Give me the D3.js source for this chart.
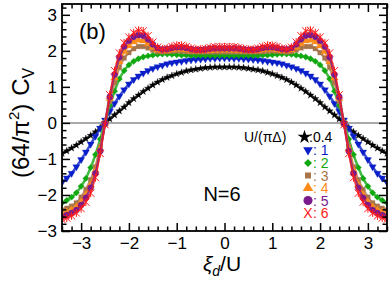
<!DOCTYPE html>
<html>
<head>
  <meta charset="utf-8">
  <title></title>
  <style>
    body { margin: 0; background: #fff; }
    text { font-family: 'Liberation Sans', Arial, sans-serif; }
  </style>
</head>
<body>
<div id="chart"></div>
<script src="https://cdn.jsdelivr.net/npm/d3@7"></script>
<script>
// x grid of the curves, xi_d / U from -3.4 to 3.4
var xs = d3.range(-34, 35).map(function(i) { return i / 10 })

var black = [-0.85,-0.78,-0.70,-0.62,-0.53,-0.44,-0.35,-0.25,-0.13,-0.01,0.11,0.22,0.33,0.44,0.56,0.67,0.77,0.87,0.96,1.05,1.13,1.20,1.26,1.31,1.36,1.40,1.44,1.47,1.49,1.51,1.53,1.54,1.55,1.55,1.55,
  1.55,1.55,1.54,1.53,1.51,1.49,1.47,1.44,1.40,1.36,1.31,1.26,1.20,1.13,1.05,0.96,0.87,0.77,0.67,0.56,0.44,0.33,0.22,0.11,-0.01,-0.13,-0.25,-0.35,-0.44,-0.53,-0.62,-0.70,-0.78,-0.85]
var blue = [-1.65,-1.53,-1.40,-1.22,-1.02,-0.81,-0.59,-0.37,-0.15,0.08,0.32,0.54,0.74,0.92,1.08,1.20,1.30,1.38,1.45,1.51,1.56,1.60,1.64,1.67,1.69,1.71,1.73,1.75,1.76,1.77,1.78,1.79,1.79,1.80,1.80,
  1.80,1.79,1.79,1.78,1.77,1.76,1.75,1.73,1.71,1.69,1.67,1.64,1.60,1.56,1.51,1.45,1.38,1.30,1.20,1.08,0.92,0.74,0.54,0.32,0.08,-0.15,-0.37,-0.59,-0.81,-1.02,-1.22,-1.40,-1.53,-1.65]
var green = [-2.22,-2.15,-2.06,-1.94,-1.76,-1.54,-1.24,-0.88,-0.45,0.03,0.48,0.88,1.22,1.45,1.61,1.71,1.78,1.83,1.86,1.88,1.90,1.91,1.91,1.90,1.89,1.88,1.88,1.87,1.87,1.87,1.87,1.87,1.87,1.87,1.87,
  1.87,1.87,1.87,1.87,1.87,1.87,1.87,1.88,1.88,1.89,1.90,1.91,1.91,1.90,1.88,1.86,1.83,1.78,1.71,1.61,1.45,1.22,0.88,0.48,0.03,-0.45,-0.88,-1.24,-1.54,-1.76,-1.94,-2.06,-2.15,-2.22]
var brown = [-2.42,-2.37,-2.31,-2.22,-2.06,-1.85,-1.58,-1.22,-0.66,0.00,0.60,1.12,1.54,1.80,1.95,2.06,2.12,2.12,2.08,2.02,1.98,1.97,1.98,1.99,2.00,1.99,1.98,1.97,1.97,1.97,1.97,1.97,1.97,1.97,1.97,
  1.97,1.97,1.97,1.97,1.97,1.97,1.97,1.98,1.99,2.00,1.99,1.98,1.97,1.98,2.02,2.08,2.12,2.12,2.06,1.95,1.80,1.54,1.12,0.60,0.00,-0.66,-1.22,-1.58,-1.85,-2.06,-2.22,-2.31,-2.37,-2.42]
var orange = [-2.52,-2.48,-2.42,-2.34,-2.20,-2.00,-1.72,-1.32,-0.72,0.00,0.68,1.25,1.70,1.98,2.14,2.25,2.30,2.28,2.20,2.10,2.03,2.00,2.01,2.03,2.05,2.05,2.03,2.01,2.00,2.00,2.00,2.01,2.02,2.02,2.02,
  2.02,2.02,2.01,2.00,2.00,2.00,2.01,2.03,2.05,2.05,2.03,2.01,2.00,2.03,2.10,2.20,2.28,2.30,2.25,2.14,1.98,1.70,1.25,0.68,0.00,-0.72,-1.32,-1.72,-2.00,-2.20,-2.34,-2.42,-2.48,-2.52]
var purple = [-2.60,-2.56,-2.50,-2.42,-2.28,-2.08,-1.80,-1.40,-0.78,-0.02,0.72,1.34,1.82,2.12,2.28,2.39,2.44,2.42,2.32,2.18,2.08,2.04,2.05,2.08,2.10,2.10,2.08,2.05,2.03,2.03,2.04,2.06,2.07,2.07,2.07,
  2.07,2.07,2.06,2.04,2.03,2.03,2.05,2.08,2.10,2.10,2.08,2.05,2.04,2.08,2.18,2.32,2.42,2.44,2.39,2.28,2.12,1.82,1.34,0.72,-0.02,-0.78,-1.40,-1.80,-2.08,-2.28,-2.42,-2.50,-2.56,-2.60]
var red = [-2.68,-2.64,-2.58,-2.50,-2.38,-2.20,-1.95,-1.52,-0.85,-0.05,0.78,1.45,1.94,2.22,2.38,2.50,2.57,2.55,2.42,2.24,2.10,2.05,2.07,2.12,2.15,2.15,2.12,2.07,2.04,2.04,2.06,2.09,2.11,2.11,2.11,
  2.11,2.11,2.09,2.06,2.04,2.04,2.07,2.12,2.15,2.15,2.12,2.07,2.05,2.10,2.24,2.42,2.55,2.57,2.50,2.38,2.22,1.94,1.45,0.78,-0.05,-0.85,-1.52,-1.95,-2.20,-2.38,-2.50,-2.58,-2.64,-2.68]

var uLabels = ['0.4', '1', '2', '3', '4', '5', '6']
var xTicks = [-3, -2, -1, 0, 1, 2, 3]
var yTicks = [-3, -2, -1, 0, 1, 2, 3]

var width = 390
var height = 287
var margin = {top: 4, right: 3, bottom: 56, left: 62}
var w = width - margin.left - margin.right
var h = height - margin.top - margin.bottom

var svg = d3.select('#chart').append('svg')
  .attr('width', width)
  .attr('height', height)

var xScale = d3.scaleLinear().domain([-3.4, 3.4]).range([0, w])
var yScale = d3.scaleLinear().domain([-3, 3.3]).range([h, 0])

var g = svg.append('g')
  .attr('transform', 'translate(' + margin.left + ',' + margin.top + ')')

g.append('clipPath').attr('id', 'clip')
  .append('rect').attr('width', w).attr('height', h)

// zero line
g.append('line')
  .attr('x1', 0).attr('x2', w)
  .attr('y1', yScale(0)).attr('y2', yScale(0))
  .attr('stroke', '#8c8c8c').attr('stroke-width', 1.5)

var cross = 'M-3.6,-3.6L3.6,3.6M-3.6,3.6L3.6,-3.6M0,-4L0,4'
var series = [
  {v: black, color: '#000000', d: d3.symbol(d3.symbolStar, 16)(), rot: 0, fill: true},
  {v: blue, color: '#0a1fc8', d: d3.symbol(d3.symbolTriangle, 22)(), rot: 180, fill: true},
  {v: green, color: '#10a810', d: d3.symbol(d3.symbolSquare, 20)(), rot: 45, fill: true},
  {v: brown, color: '#a8744a', d: d3.symbol(d3.symbolSquare, 22)(), rot: 0, fill: true},
  {v: orange, color: '#ff8c1a', d: d3.symbol(d3.symbolTriangle, 26)(), rot: 0, fill: true},
  {v: purple, color: '#7a1a8c', d: d3.symbol(d3.symbolCircle, 30)(), rot: 0, fill: true},
  {v: red, color: '#ff1a1a', d: cross, rot: 0, fill: false}
]

var line = d3.line()
  .x(function(d, i) { return xScale(xs[i]) })
  .y(function(d) { return yScale(d) })
  .curve(d3.curveMonotoneX)

var plot = g.append('g').attr('clip-path', 'url(#clip)')
series.forEach(function(s) {
  // thin band under the markers so the dense symbols read as a continuous curve
  plot.append('path')
    .attr('d', line(s.v))
    .attr('fill', 'none')
    .attr('stroke', s.color)
    .attr('stroke-width', s.fill ? 2.5 : 1.5)
    .attr('stroke-opacity', 0.8)
  plot.append('g').selectAll('path')
    .data(s.v)
    .enter()
    .append('path')
    .attr('d', s.d)
    .attr('transform', function(d, i) {
      return 'translate(' + xScale(xs[i]) + ',' + yScale(d) + ') rotate(' + s.rot + ')'
    })
    .attr('fill', s.fill ? s.color : 'none')
    .attr('stroke', s.color)
    .attr('stroke-width', s.fill ? 0.3 : 1)
})

// axes, ticks pointing inward on all four sides
var minorX = d3.range(-17, 18).map(function(i) { return i / 5 }).filter(function(d) { return Math.abs(d - Math.round(d)) > 1e-6 })
var minorY = d3.range(-15, 17).map(function(i) { return i / 5 }).filter(function(d) { return Math.abs(d - Math.round(d)) > 1e-6 })
var fmt = d3.format('d')

function styleAxis(sel) {
  sel.select('.domain').remove()
  sel.selectAll('line').attr('stroke', '#000').attr('stroke-width', 1.5)
  sel.selectAll('text').attr('font-size', 17).attr('fill', '#000')
    .attr('font-family', "'Liberation Sans', Arial, sans-serif")
}

g.append('g').attr('transform', 'translate(0,' + h + ')')
  .call(d3.axisBottom(xScale).tickValues(xTicks).tickFormat(fmt).tickSize(-8).tickPadding(6))
  .call(styleAxis)
g.append('g').attr('transform', 'translate(0,' + h + ')')
  .call(d3.axisBottom(xScale).tickValues(minorX).tickSize(-4.5).tickFormat(''))
  .call(styleAxis)
g.append('g')
  .call(d3.axisTop(xScale).tickValues(xTicks).tickSize(-8).tickFormat(''))
  .call(styleAxis)
g.append('g')
  .call(d3.axisTop(xScale).tickValues(minorX).tickSize(-4.5).tickFormat(''))
  .call(styleAxis)
g.append('g')
  .call(d3.axisLeft(yScale).tickValues(yTicks).tickFormat(fmt).tickSize(-8).tickPadding(5))
  .call(styleAxis)
g.append('g')
  .call(d3.axisLeft(yScale).tickValues(minorY).tickSize(-4.5).tickFormat(''))
  .call(styleAxis)
g.append('g').attr('transform', 'translate(' + w + ',0)')
  .call(d3.axisRight(yScale).tickValues(yTicks).tickSize(-8).tickFormat(''))
  .call(styleAxis)
g.append('g').attr('transform', 'translate(' + w + ',0)')
  .call(d3.axisRight(yScale).tickValues(minorY).tickSize(-4.5).tickFormat(''))
  .call(styleAxis)

g.append('rect')
  .attr('width', w).attr('height', h)
  .attr('fill', 'none').attr('stroke', '#000').attr('stroke-width', 1.8)

// panel texts
g.append('text').attr('x', 17).attr('y', 35)
  .attr('font-size', 22).text('(b)')
g.append('text').attr('x', 160).attr('y', 197)
  .attr('text-anchor', 'middle').attr('font-size', 20).text('N=6')

// legend
var lg = svg.append('g')
lg.append('text').attr('x', 244).attr('y', 141.5).attr('font-size', 14).text('U/(πΔ)')
var legRows = [137, 150, 163, 175.5, 188, 200.5, 213]
series.forEach(function(s, i) {
  var yy = legRows[i]
  var sx = i === 0 ? 304.5 : 308
  if (i === 6) {
    lg.append('text').attr('x', sx).attr('y', yy + 5).attr('text-anchor', 'middle')
      .attr('font-size', 14).attr('fill', s.color).text('X')
  } else {
    var sym = [d3.symbolStar, d3.symbolTriangle, d3.symbolSquare, d3.symbolSquare, d3.symbolTriangle, d3.symbolCircle][i]
    var size = [60, 40, 32, 36, 48, 64][i]
    lg.append('path')
      .attr('d', d3.symbol(sym, size)())
      .attr('transform', 'translate(' + sx + ',' + yy + ') rotate(' + s.rot + ')')
      .attr('fill', s.color)
  }
  lg.append('text').attr('x', i === 0 ? 309 : 313).attr('y', yy + 5)
    .attr('font-size', 14).attr('fill', s.color)
    .text(i === 0 ? ':' + uLabels[i] : ': ' + uLabels[i])
})

// axis titles
var xl = svg.append('text').attr('x', 222).attr('y', 271)
  .attr('text-anchor', 'middle').attr('font-size', 21)
xl.append('tspan').attr('font-style', 'italic').text('ξ')
xl.append('tspan').attr('font-style', 'italic').attr('font-size', 14).attr('dy', 5).text('d')
xl.append('tspan').attr('dy', -5).text('/U')

var yl = svg.append('text')
  .attr('transform', 'translate(29,178) rotate(-90)')
  .attr('font-size', 24)
yl.append('tspan').text('(64/π')
yl.append('tspan').attr('font-size', 15).attr('dy', -10).text('2')
yl.append('tspan').attr('dy', 10).text(')')
yl.append('tspan').attr('dx', 8).text('C')
yl.append('tspan').attr('font-size', 16).attr('dy', 5).text('V')
</script>
</body>
</html>
